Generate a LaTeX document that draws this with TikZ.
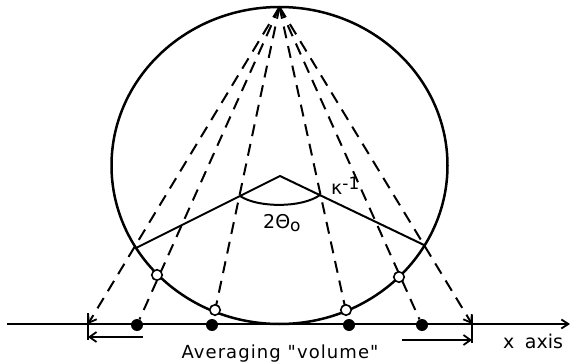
\documentclass[tikz,border=0pt]{standalone}
\usepackage{fontspec}
\setmainfont{DejaVu Sans}[Ligatures=TeXOff]
\usetikzlibrary{arrows.meta}
\begin{document}
\begin{tikzpicture}[x=1pt,y=-1pt,
  curve/.style={line width=2.5pt},
  ray/.style={line width=2pt, dash pattern=on 12pt off 8pt},
  vline/.style={line width=2pt},
  opendot/.style={circle, draw, fill=white, line width=1.6pt, inner sep=0pt, minimum size=10.5pt},
  fulldot/.style={circle, fill=black, inner sep=0pt, minimum size=12pt},
  tip/.style={-{Straight Barb[length=7pt,width=10pt,line width=1.8pt]}},
  lbl/.style={font=\fontsize{19}{21}\selectfont, inner sep=0pt}
]
\useasboundingbox (0,0) rectangle (571,364);

% coordinates
\coordinate (apex) at (279.5,7);
\coordinate (hub) at (280,176);
\coordinate (vl) at (136,248);
\coordinate (vr) at (424,245);
\coordinate (al) at (240,196);
\coordinate (ar) at (320,195);
\coordinate (axl) at (7,324);
\coordinate (axr) at (570,324);
\coordinate (el) at (88,324);
\coordinate (er) at (472,324);
\coordinate (tl1) at (88,313);
\coordinate (tl2) at (88,340);
\coordinate (tr1) at (472,315);
\coordinate (tr2) at (472,343);
\coordinate (al1) at (143,337);
\coordinate (al2) at (88,337);
\coordinate (ar1) at (402,340);
\coordinate (ar2) at (472,340);

% circle (slightly wide ellipse)
\draw[curve] (279.5,165.5) ellipse [x radius=168, y radius=158.5];

% axis
\draw[vline, -{Straight Barb[length=7pt,width=9pt,line width=1.8pt]}] (axl) -- (axr);

% filled dots on the axis
\node[fulldot] (d1) at (137,325) {};
\node[fulldot] (d2) at (212,325) {};
\node[fulldot] (d3) at (349,325) {};
\node[fulldot] (d4) at (422,325) {};

% dashed rays from the apex
\draw[ray, tip] (apex) -- (el);
\draw[ray] (apex) -- (d1);
\draw[ray] (apex) -- (d2);
\draw[ray] (apex) -- (d3);
\draw[ray] (apex) -- (d4);
\draw[ray, tip] (apex) -- (er);

% V lines and angle arc
\draw[vline] (vl) -- (hub) -- (vr);
\draw[vline] (al) .. controls (258,208) and (302,208) .. (ar);

% open circles on the circle
\node[opendot] (o1) at (157,275) {};
\node[opendot] (o2) at (215,310) {};
\node[opendot] (o3) at (346,310) {};
\node[opendot] (o4) at (399,277) {};

% averaging volume ticks and arrows
\draw[vline] (tl1) -- (tl2);
\draw[vline] (tr1) -- (tr2);
\draw[vline, tip] (al1) -- (al2);
\draw[vline, tip] (ar1) -- (ar2);

% labels
\node[lbl, anchor=base, font=\addfontfeatures{LetterSpace=6}\fontsize{18}{20}\selectfont] (avg) at (280,358) {Averaging "volume"};
\node[lbl, anchor=base west] (xax) at (503,348) {x\hspace{0.55em}axis};
\node[lbl, anchor=base west] (theta) at (263,228) {2Θ\raisebox{-3.5pt}{\fontsize{17}{17}\selectfont o}};
\node[lbl, anchor=base west] (kappa) at (331,194) {κ\raisebox{5pt}{\fontsize{17}{17}\selectfont -1}};
\end{tikzpicture}
\end{document}
